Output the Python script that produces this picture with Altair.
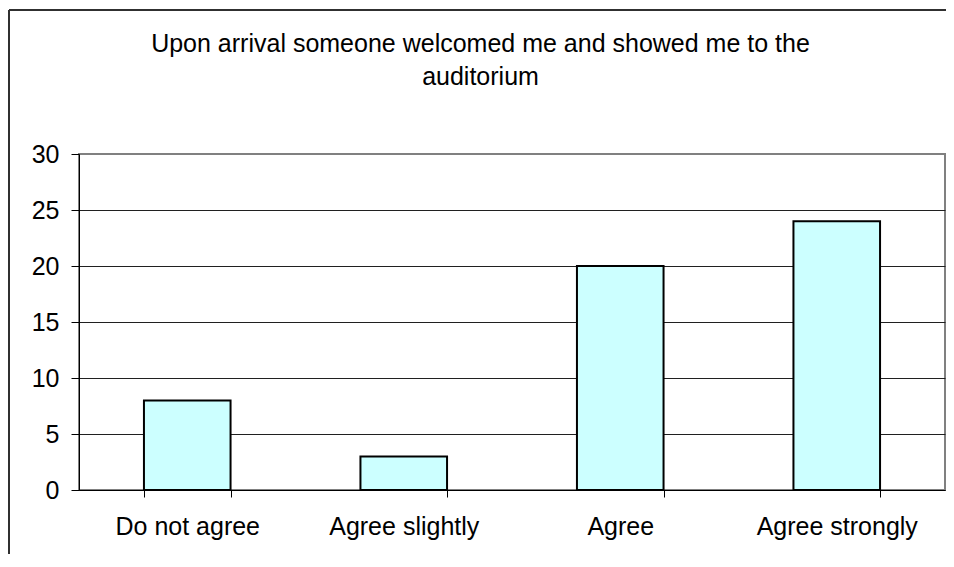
import altair as alt
import pandas as pd

CATEGORIES = ["Do not agree", "Agree slightly", "Agree", "Agree strongly"]
COUNTS = [8, 3, 20, 24]
Y_TICKS = [0, 5, 10, 15, 20, 25, 30]
TITLE_LINES = ["Upon arrival someone welcomed me and showed me to the", "auditorium"]

FONT = "Liberation Sans"
FS = 25
W, H = 866, 336

df = pd.DataFrame({"category": CATEGORIES, "count": COUNTS})
one = pd.DataFrame({"k": [0]})

bars = alt.Chart(df).mark_bar(fill="#CCFFFF", stroke="black", strokeWidth=2).encode(
    x=alt.X(
        "category:N",
        sort=CATEGORIES,
        scale=alt.Scale(paddingInner=0.6, paddingOuter=0.3),
        axis=alt.Axis(
            title=None, labelAngle=0, tickBand="extent", ticks=True, tickSize=7,
            tickColor="black", domainColor="black", labelFontSize=FS, labelFont=FONT,
            labelColor="black", labelPadding=17, grid=False, labelLimit=0,
        ),
    ),
    y=alt.Y(
        "count:Q",
        scale=alt.Scale(domain=[0, 30], nice=False),
        axis=alt.Axis(
            title=None, values=Y_TICKS, tickSize=8, tickColor="black",
            domainColor="black", labelFontSize=FS, labelFont=FONT, labelColor="black",
            labelPadding=12, grid=True,
            gridColor={"condition": {"test": "datum.value == 30", "value": "#808080"}, "value": "#202020"},
            gridOpacity=1,
        ),
    ),
)

title = alt.Chart(one).mark_text(
    align="center", baseline="alphabetic", fontSize=FS, font=FONT, lineHeight=33, color="black"
).encode(x=alt.value(401.5), y=alt.value(-102), text=alt.value(TITLE_LINES))

left_rule = alt.Chart(one).mark_rule(color="#303030", strokeWidth=2).encode(
    x=alt.value(-70), y=alt.value(-144), y2=alt.value(400)
)
top_rule = alt.Chart(one).mark_rule(color="#303030", strokeWidth=2).encode(
    x=alt.value(-70), x2=alt.value(867), y=alt.value(-144)
)

chart = alt.layer(left_rule, top_rule, bars, title).properties(
    width=W, height=H,
    autosize=alt.AutoSizeParams(type="none"),
    padding={"left": 71, "top": 146, "right": 1, "bottom": 64},
).configure_view(stroke="#808080", strokeWidth=2)

chart.save("out.html", embed_options={"renderer": "svg", "actions": False})
